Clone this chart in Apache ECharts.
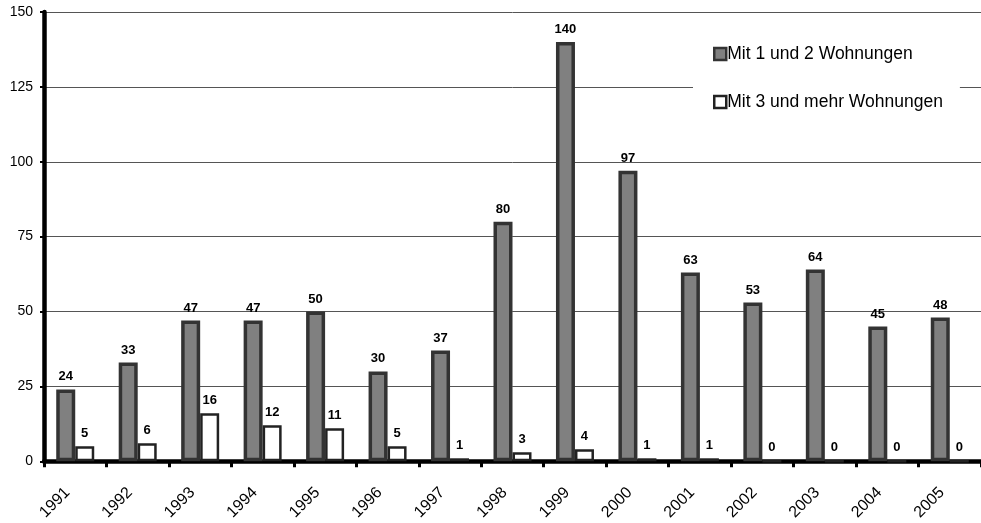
<!DOCTYPE html>
<html>
<head>
<meta charset="utf-8">
<script src="https://cdn.jsdelivr.net/npm/echarts@6/dist/echarts.min.js"></script>
<style>
  html, body { margin: 0; padding: 0; background: #fff; }
  #chart { width: 981px; height: 523px; }
</style>
</head>
<body>
<div id="chart"></div>
<script>
// Jahre
const years = ['1991','1992','1993','1994','1995','1996','1997','1998','1999','2000','2001','2002','2003','2004','2005'];
// Gebäude mit 1 und 2 Wohnungen
const small = [24, 33, 47, 47, 50, 30, 37, 80, 140, 97, 63, 53, 64, 45, 48];
// Gebäude mit 3 und mehr Wohnungen
const large = [5, 6, 16, 12, 11, 5, 1, 3, 4, 1, 1, 0, 0, 0, 0];
const yTicks = [0, 25, 50, 75, 100, 125, 150];

const font = 'Liberation Sans, Arial, sans-serif';
const chart = echarts.init(document.getElementById('chart'));

const labelStyle = {
  show: true,
  position: 'top',
  distance: 6,
  fontFamily: font,
  fontSize: 13,
  fontWeight: 'bold',
  color: '#000'
};

chart.setOption({
  animation: false,
  backgroundColor: '#fff',
  grid: { left: 44, top: 12, width: 945, bottom: 61, containLabel: false },
  legend: {
    orient: 'vertical',
    left: 693,
    top: 30,
    padding: [15, 17, 12, 20],
    itemGap: 30,
    itemWidth: 12,
    itemHeight: 12,
    backgroundColor: '#fff',
    icon: 'rect',
    itemStyle: { borderWidth: 2.5 },
    textStyle: { fontFamily: font, fontSize: 17.5, color: '#000', padding: [5, 0, 0, -4] },
    data: ['Mit 1 und 2 Wohnungen', 'Mit 3 und mehr Wohnungen']
  },
  xAxis: {
    type: 'category',
    data: years,
    axisLine: { show: true, lineStyle: { color: '#000', width: 4.5 } },
    axisTick: { show: true, alignWithLabel: false, length: 6, lineStyle: { color: '#000', width: 3 } },
    axisLabel: {
      rotate: 45,
      margin: 21,
      padding: [0, 11, 0, 0],
      fontFamily: font,
      fontSize: 16,
      color: '#000'
    }
  },
  yAxis: {
    type: 'value',
    min: 0,
    max: yTicks[yTicks.length - 1],
    interval: 25,
    axisLine: { show: true, lineStyle: { color: '#000', width: 4.5 } },
    axisTick: { show: true, length: 4, lineStyle: { color: '#000', width: 2 } },
    axisLabel: { margin: 11, fontFamily: font, fontSize: 14, color: '#000' },
    splitLine: { show: true, lineStyle: { color: '#555', width: 1 } }
  },
  series: [
    {
      name: 'Mit 1 und 2 Wohnungen',
      type: 'bar',
      data: small,
      barWidth: 19,
      barGap: '0%',
      itemStyle: { color: '#808080', borderColor: '#333', borderWidth: 3.5 },
      label: labelStyle
    },
    {
      name: 'Mit 3 und mehr Wohnungen',
      type: 'bar',
      data: large,
      barWidth: 19,
      itemStyle: { color: '#fff', borderColor: '#222', borderWidth: 2.5 },
      label: labelStyle
    }
  ]
});
</script>
</body>
</html>
